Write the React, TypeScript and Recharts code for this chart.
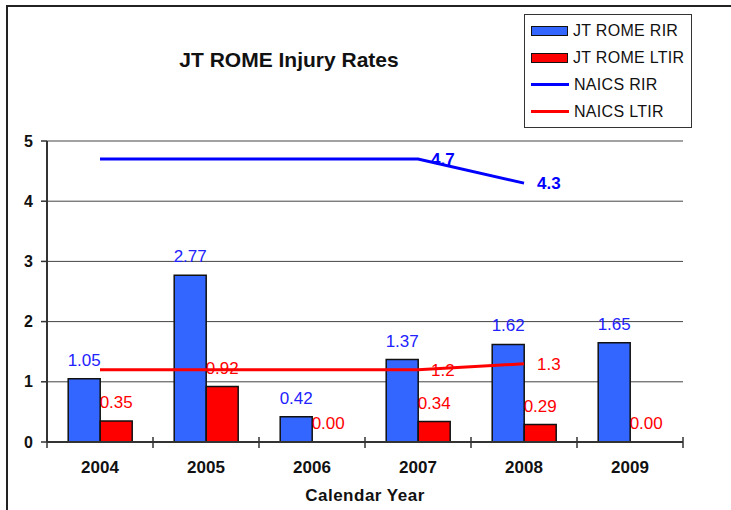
import React from 'react';
import {
  ComposedChart,
  Bar,
  Line,
  XAxis,
  YAxis,
  CartesianGrid,
  LabelList,
  Label,
} from 'recharts';

const years = ['2004', '2005', '2006', '2007', '2008', '2009'];
const romeRir = [1.05, 2.77, 0.42, 1.37, 1.62, 1.65];
const romeLtir = [0.35, 0.92, 0.0, 0.34, 0.29, 0.0];
const naicsRir = [4.7, 4.7, 4.7, 4.7, 4.3, null];
const naicsLtir = [1.2, 1.2, 1.2, 1.2, 1.3, null];
const naicsLabelYears = ['2007', '2008'];
const yTicks = [0, 1, 2, 3, 4, 5];

const FONT = '"Liberation Sans", Arial, sans-serif';

const BLUE_BAR = '#3366FF';
const RED_BAR = '#FF0000';
const BLUE_LINE = '#0000FF';
const RED_LINE = '#FF0000';
const BLUE_TEXT = '#2222FF';

const data = years.map((year, i) => ({
  year,
  romeRir: romeRir[i],
  romeLtir: romeLtir[i],
  naicsRir: naicsRir[i],
  naicsLtir: naicsLtir[i],
}));

const legendItems = [
  { name: 'JT ROME RIR', color: BLUE_BAR, type: 'bar' },
  { name: 'JT ROME LTIR', color: RED_BAR, type: 'bar' },
  { name: 'NAICS RIR', color: BLUE_LINE, type: 'line' },
  { name: 'NAICS LTIR', color: RED_LINE, type: 'line' },
];

// category axis: ticks sit on the band edges, labels in the middle
const YearTick = (props: any) => {
  const { x, y, payload } = props;
  const half = payload.offset ?? 53;
  const last = payload.index === years.length - 1;
  return (
    <g>
      <line x1={x - half} x2={x - half} y1={y - 5} y2={y + 6} stroke="#333" strokeWidth={1.5} />
      {last && <line x1={x + half} x2={x + half} y1={y - 5} y2={y + 6} stroke="#333" strokeWidth={1.5} />}
      <text x={x} y={y + 31} textAnchor="middle" fontFamily={FONT} fontSize={17} fontWeight="bold" fill="#111">
        {payload.value}
      </text>
    </g>
  );
};

const naicsLabel = (color: string, bold: boolean) => (props: any) => {
  const { x, y, index, value } = props;
  if (value == null || !naicsLabelYears.includes(years[index])) return null;
  return (
    <text
      x={x + 13}
      y={y}
      dy={6}
      textAnchor="start"
      fontFamily={FONT}
      fontSize={17}
      fontWeight={bold ? 'bold' : 'normal'}
      fill={color}
    >
      {value}
    </text>
  );
};

// zero values still get a (flat) bar so their "0.00" label is drawn
const flatZero = (value: any) => (Number(value) === 0 ? 0.01 : 0);

export default function App() {
  return (
    <div style={{ position: 'absolute', left: 0, top: 0, width: 731, height: 510, overflow: 'hidden', background: '#fff', fontFamily: FONT }}>
      {/* outer frame, cut off on the right and bottom */}
      <div style={{ position: 'absolute', left: 6, top: 5, width: 760, height: 540, borderLeft: '2px solid #222', borderTop: '2px solid #222' }} />

      <div style={{ position: 'absolute', left: 139, top: 49, width: 300, textAlign: 'center', fontSize: 21, lineHeight: '21px', fontWeight: 'bold', color: '#111' }}>
        JT ROME Injury Rates
      </div>

      <div style={{ position: 'absolute', left: 524, top: 14, width: 166, height: 110, border: '1.5px solid #333', paddingTop: 2 }}>
        {legendItems.map(item => (
          <div key={item.name} style={{ display: 'flex', alignItems: 'center', height: 27, paddingLeft: 6 }}>
            {item.type === 'bar' ? (
              <span style={{ display: 'inline-block', width: 35, height: 8, background: item.color, border: '1.5px solid #111' }} />
            ) : (
              <span style={{ display: 'inline-block', width: 38, height: 3, background: item.color }} />
            )}
            <span style={{ marginLeft: 5, fontSize: 16, letterSpacing: 0.3, color: '#111', whiteSpace: 'nowrap' }}>{item.name}</span>
          </div>
        ))}
      </div>

      <div style={{ position: 'absolute', left: 0, top: 0 }}>
        <ComposedChart
          width={731}
          height={510}
          data={data}
          margin={{ top: 141, right: 48, bottom: 8, left: 7 }}
          barCategoryGap="20%"
          barGap={0}
        >
          <CartesianGrid vertical={false} stroke="#444" strokeWidth={1} />
          <XAxis
            dataKey="year"
            height={60}
            tickLine={false}
            tickSize={0}
            tickMargin={0}
            axisLine={{ stroke: '#333', strokeWidth: 2 }}
            tick={<YearTick />}
            interval={0}
          >
            <Label
              value="Calendar Year"
              position="insideBottom"
              offset={1}
              style={{ fontFamily: FONT, fontSize: 17, fontWeight: 'bold', fill: '#111', letterSpacing: 0.5 }}
            />
          </XAxis>
          <YAxis
            width={40}
            domain={[0, 5]}
            ticks={yTicks}
            interval={0}
            tickSize={6}
            tickMargin={8}
            tickLine={{ stroke: '#333', strokeWidth: 1.5 }}
            axisLine={{ stroke: '#333', strokeWidth: 2 }}
            tick={{ fontFamily: FONT, fontSize: 16, fontWeight: 'bold', fill: '#111' }}
          />
          <YAxis
            yAxisId="frame"
            orientation="right"
            width={0}
            domain={[0, 5]}
            tick={false}
            tickLine={false}
            axisLine={{ stroke: '#333', strokeWidth: 1.5 }}
          />
          <Bar dataKey="romeRir" name="JT ROME RIR" fill={BLUE_BAR} stroke="#111" strokeWidth={1.5} minPointSize={flatZero} isAnimationActive={false}>
            <LabelList
              dataKey="romeRir"
              position="top"
              offset={13}
              formatter={(v: any) => Number(v).toFixed(2)}
              style={{ fontFamily: FONT, fontSize: 17, fill: BLUE_TEXT }}
            />
          </Bar>
          <Bar dataKey="romeLtir" name="JT ROME LTIR" fill={RED_BAR} stroke="#111" strokeWidth={1.5} minPointSize={flatZero} isAnimationActive={false}>
            <LabelList
              dataKey="romeLtir"
              position="top"
              offset={13}
              formatter={(v: any) => Number(v).toFixed(2)}
              style={{ fontFamily: FONT, fontSize: 17, fill: RED_LINE }}
            />
          </Bar>
          <Line
            dataKey="naicsRir"
            name="NAICS RIR"
            stroke={BLUE_LINE}
            strokeWidth={3}
            dot={false}
            activeDot={false}
            isAnimationActive={false}
          >
            <LabelList dataKey="naicsRir" content={naicsLabel(BLUE_LINE, true)} />
          </Line>
          <Line
            dataKey="naicsLtir"
            name="NAICS LTIR"
            stroke={RED_LINE}
            strokeWidth={3}
            dot={false}
            activeDot={false}
            isAnimationActive={false}
          >
            <LabelList dataKey="naicsLtir" content={naicsLabel(RED_LINE, false)} />
          </Line>
        </ComposedChart>
      </div>
    </div>
  );
}
